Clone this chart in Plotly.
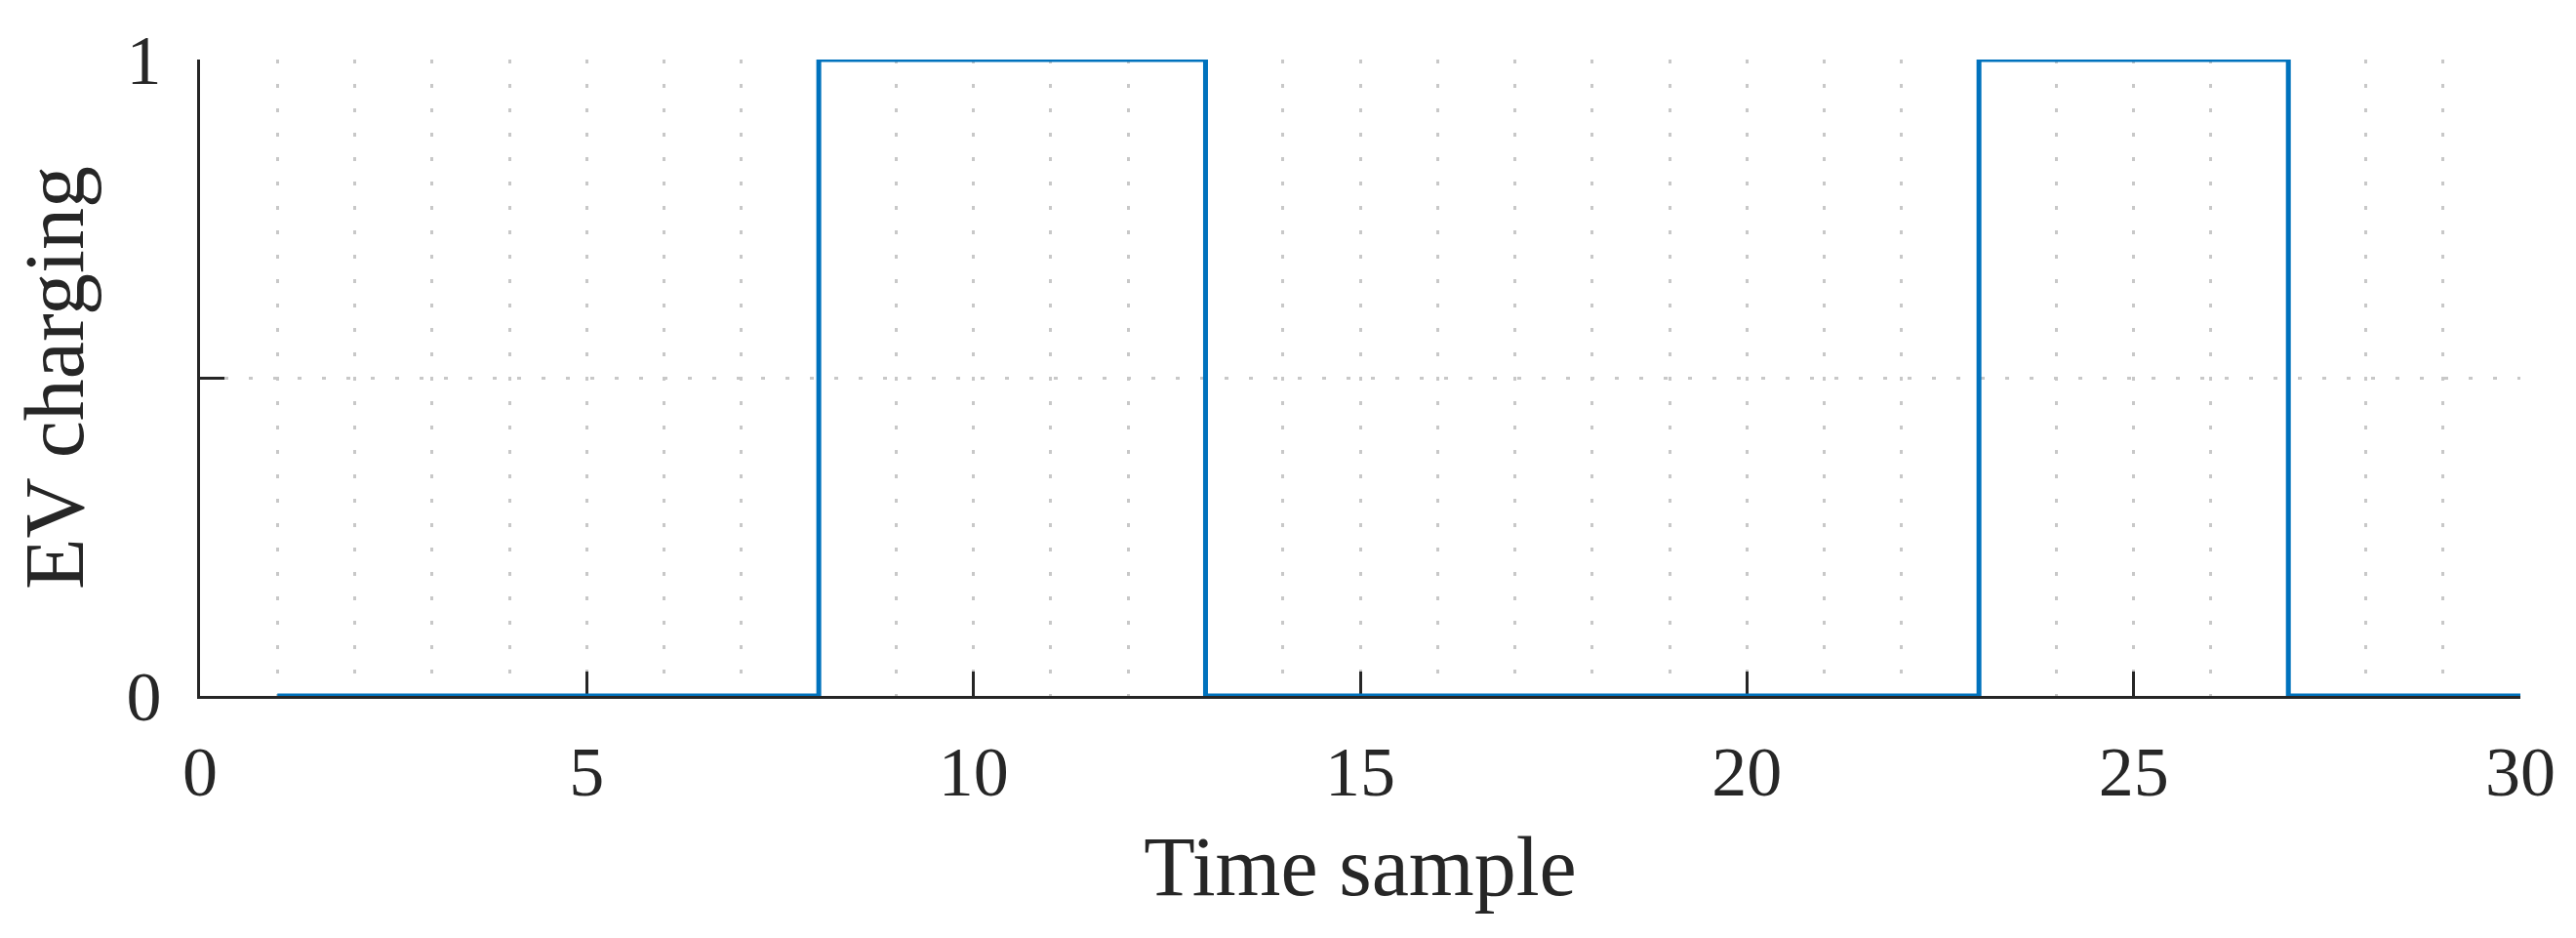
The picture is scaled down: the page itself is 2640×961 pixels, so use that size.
import plotly.graph_objects as go

# EV charging state at each time sample
time_sample = list(range(1, 31))
ev_charging = [0, 0, 0, 0, 0, 0, 0,
               1, 1, 1, 1, 1,
               0, 0, 0, 0, 0, 0, 0, 0, 0, 0,
               1, 1, 1, 1,
               0, 0, 0, 0]

x_ticks = [0, 5, 10, 15, 20, 25, 30]
y_ticks = [0, 0.5, 1]
y_ticktext = ["0", "", "1"]

font_family = "'Times New Roman', 'Liberation Serif', Times, serif"
axis_col = "#262626"
grid_col = "#c8c8c8"
grid_dash = "4px,21px"

fig = go.Figure()
fig.add_trace(go.Scatter(
    x=time_sample,
    y=ev_charging,
    mode="lines",
    line=dict(color="#0072BD", width=5, shape="hv"),
    cliponaxis=False,
    showlegend=False,
))

# the page body adds an 8px offset, margins account for it
fig.update_layout(
    width=2640,
    height=961,
    margin=dict(l=197, r=65, t=53, b=256),
    plot_bgcolor="white",
    paper_bgcolor="white",
    font=dict(family=font_family, size=72, color=axis_col),
)

fig.update_xaxes(
    range=[0, 30],
    tickvals=x_ticks,
    ticks="inside",
    ticklen=25,
    tickwidth=3,
    tickcolor=axis_col,
    showline=True,
    linecolor=axis_col,
    linewidth=3,
    showgrid=True,
    gridcolor=grid_col,
    gridwidth=3,
    griddash=grid_dash,
    minor=dict(dtick=1, tick0=0, showgrid=True, gridcolor=grid_col,
               gridwidth=3, griddash=grid_dash),
    zeroline=False,
    layer="below traces",
    automargin=False,
    ticklabelstandoff=13,
    title=dict(text="Time sample", standoff=27),
)

fig.update_yaxes(
    range=[0, 1],
    tickvals=y_ticks,
    ticktext=y_ticktext,
    ticks="inside",
    ticklen=25,
    tickwidth=3,
    tickcolor=axis_col,
    showline=True,
    linecolor=axis_col,
    linewidth=3,
    showgrid=True,
    gridcolor=grid_col,
    gridwidth=3,
    griddash=grid_dash,
    zeroline=False,
    layer="below traces",
    automargin=False,
    ticklabelstandoff=22,
    title=dict(text="EV charging", standoff=52),
)

fig.write_html("out.html")
